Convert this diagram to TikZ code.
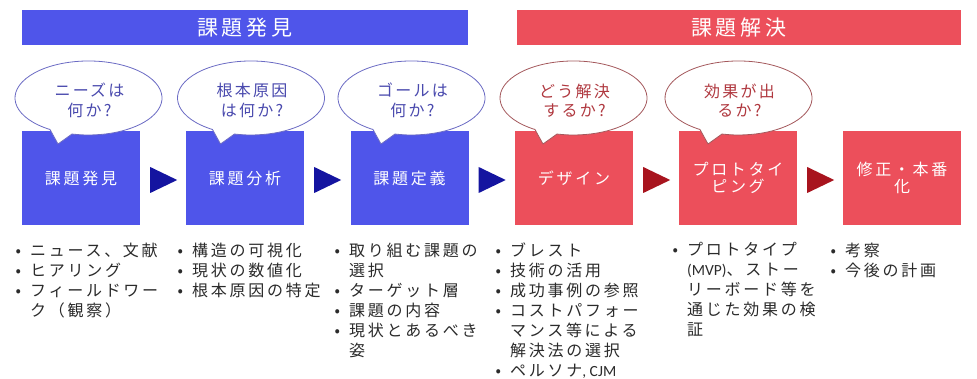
\documentclass[tikz,border=0pt]{standalone}
\usepackage{fontspec}
\setmainfont{Noto Sans CJK JP}
\newfontfamily\jpA[LetterSpace=17]{Noto Sans CJK JP}
\newfontfamily\jpB[LetterSpace=19]{Noto Sans CJK JP}
\newfontfamily\jpC[LetterSpace=14]{Noto Sans CJK JP}
\newfontfamily\lat{Carlito}
\usetikzlibrary{calc}
\definecolor{bbox}{HTML}{4F55EA}
\definecolor{rbox}{HTML}{EC4F5B}
\definecolor{btri}{HTML}{1414A0}
\definecolor{rtri}{HTML}{A8141E}
\definecolor{bline}{HTML}{6B6BC4}
\definecolor{rline}{HTML}{A4585C}
\definecolor{btext}{HTML}{4A4AAE}
\definecolor{rtext}{HTML}{B0383F}
\definecolor{gtext}{HTML}{2B2B2B}
\newcommand\bl{\leavevmode\llap{\makebox[14.5pt][l]{•}}}
\newcommand\mylat[1]{{\lat\fontsize{15.5}{20}\selectfont #1}}
\tikzset{
  banner/.style={minimum width=446pt, minimum height=35pt, inner sep=0pt, text=white,
    font=\jpB\fontsize{21}{24}\selectfont},
  stepbox/.style={minimum width=118pt, minimum height=94pt, inner sep=0pt, text=white,
    align=center, font=\jpA\fontsize{16}{17.5}\selectfont},
  bubtext/.style={inner sep=0pt, align=center, font=\jpC\fontsize{16}{19.5}\selectfont},
  listtext/.style={inner sep=0pt, align=left, anchor=north west, text=gtext,
    font=\jpA\fontsize{16}{20}\selectfont},
  bub/.style={fill=white, line width=0.8pt, line join=round}
}
\newcommand\bubble[3]{%
  \path[bub, draw=#3] ({#1-38.5},{#2+31.5})
    arc[start angle=121.6, end angle=463, x radius=73.5, y radius=37]
    -- ({#1-30.5},{#2+46}) -- cycle;}
\begin{document}
\begin{tikzpicture}[x=1pt,y=-1pt]
\useasboundingbox[fill=white] (0,0) rectangle (977,379);
% banners
\node[banner, fill=bbox] (bn1) at (245,27.5) {課題発見};
\node[banner, fill=rbox, minimum width=444pt] (bn2) at (739,27.5) {課題解決};
% step boxes
\node[stepbox, fill=bbox] (s1) at (81,178) {課題発見};
\node[stepbox, fill=bbox] (s2) at (245,178) {課題分析};
\node[stepbox, fill=bbox] (s3) at (409.5,178) {課題定義};
\node[stepbox, fill=rbox] (s4) at (574,178) {デザイン};
\node[stepbox, fill=rbox] (s5) at (738,178) {プロトタイ\\ピング};
\node[stepbox, fill=rbox] (s6) at (902,178) {修正・本番\\化};
% triangles
\foreach \a/\b/\c in {s1/s2/btri, s2/s3/btri, s3/s4/btri, s4/s5/rtri, s5/s6/rtri}{
  \fill[\c] ($(\a.east)+(10,-11)$) -- ($(\a.east)+(37,2)$) -- ($(\a.east)+(10,15)$) -- cycle;
}
% bubbles
\bubble{88.5}{98}{bline}
\bubble{251}{98}{bline}
\bubble{411.5}{98}{bline}
\bubble{573.5}{98}{rline}
\bubble{738.5}{98}{rline}
\node[bubtext, text=btext] (q1) at (89.5,100.5) {ニーズは\\何か?};
\node[bubtext, text=btext] (q2) at (252,100.5) {根本原因\\は何か?};
\node[bubtext, text=btext] (q3) at (412.5,100.5) {ゴールは\\何か?};
\node[bubtext, text=rtext] (q4) at (574.5,100.5) {どう解決\\するか?};
\node[bubtext, text=rtext] (q5) at (739.5,100.5) {効果が出\\るか?};
% lists
\node[listtext] (l1) at (30,242.5) {\bl ニュース、文献\\\bl ヒアリング\\\bl フィールドワー\\ク（観察）};
\node[listtext] (l2) at (192,242.5) {\bl 構造の可視化\\\bl 現状の数値化\\\bl 根本原因の特定};
\node[listtext] (l3) at (349,242.5) {\bl 取り組む課題の\\選択\\\bl ターゲット層\\\bl 課題の内容\\\bl 現状とあるべき\\姿};
\node[listtext] (l4) at (510,242.5) {\bl ブレスト\\\bl 技術の活用\\\bl 成功事例の参照\\\bl コストパフォー\\マンス等による\\解決法の選択\\\bl ペルソナ\mylat{, CJM}};
\node[listtext] (l5) at (687,242.5) {\bl プロトタイプ\\\mylat{(MVP)}、ストー\\リーボード等を\\通じた効果の検\\証};
\node[listtext] (l6) at (845,242.5) {\bl 考察\\\bl 今後の計画};
\end{tikzpicture}
\end{document}
